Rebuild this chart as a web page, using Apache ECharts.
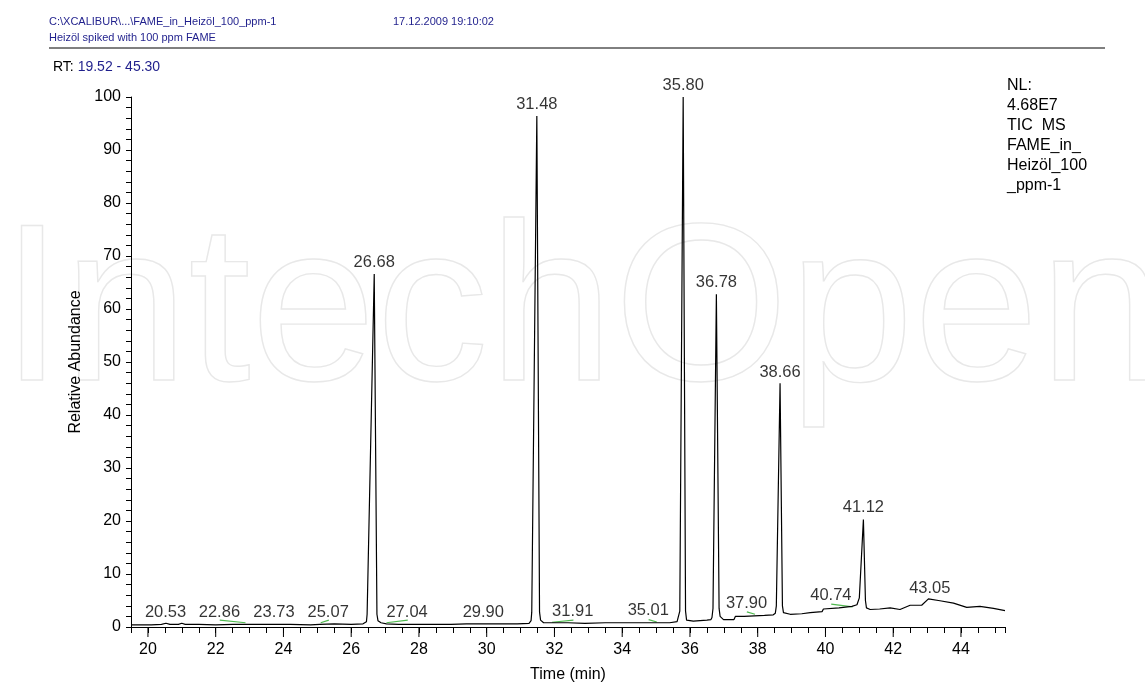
<!DOCTYPE html>
<html>
<head>
<meta charset="utf-8">
<script src="https://cdn.jsdelivr.net/npm/echarts@6/dist/echarts.min.js"></script>
<style>
html,body{margin:0;padding:0;background:#fff;}
#chart{width:1145px;height:688px;}
</style>
</head>
<body>
<div id="chart"></div>
<script>
// ---- data ----
const xMajorTicks = [20,22,24,26,28,30,32,34,36,38,40,42,44];

// TIC trace: [retention time (min), relative abundance (%)]
const trace = [
[19.52,0.4],[19.8,0.4],[20.1,0.4],[20.4,0.5],[20.53,0.7],[20.65,0.5],[20.9,0.5],[21.0,0.7],[21.1,0.5],
[21.5,0.5],[22.0,0.4],[22.5,0.5],[22.86,0.5],[23.3,0.5],[23.73,0.5],[24.2,0.5],[24.8,0.4],[25.07,0.5],
[25.5,0.6],[26.0,0.5],[26.35,0.6],
[26.45,1.0],[26.47,2.4],[26.68,66.6],[26.76,2.4],[26.79,1.2],[26.88,0.8],
[27.04,0.6],[27.4,0.5],[27.9,0.5],[28.5,0.5],[28.85,0.5],[28.9,0.8],[28.95,0.5],[29.4,0.6],[29.9,0.6],
[30.4,0.6],[30.9,0.6],[31.25,0.7],
[31.31,1.2],[31.33,2.8],[31.48,96.4],[31.56,2.8],[31.59,1.3],[31.68,0.8],
[31.91,0.8],[32.4,0.8],[32.9,0.7],[33.5,0.8],[34.0,0.8],[34.2,0.8],[34.25,1.1],[34.3,0.8],[35.01,0.8],
[35.4,0.8],[35.62,1.0],
[35.67,1.3],[35.70,3.0],[35.80,100],[35.87,3.0],[35.90,1.3],
[36.0,1.2],[36.1,1.1],[36.3,1.2],[36.5,1.3],[36.62,1.4],
[36.65,1.8],[36.68,3.5],[36.78,62.8],[36.86,3.5],[36.89,2.0],
[36.99,1.4],[37.2,1.4],[37.3,1.4],[37.34,2.0],[37.6,2.0],[37.9,2.1],[38.2,2.2],[38.46,2.3],
[38.52,2.6],[38.55,4.0],[38.66,46],[38.73,4.0],[38.76,2.7],
[38.96,2.4],[39.3,2.5],[39.55,2.7],[39.9,2.9],[39.94,3.4],[40.4,3.6],[40.78,3.9],[40.93,4.2],
[40.97,4.3],[41.0,5.5],[41.12,20.3],[41.18,5.0],[41.21,3.6],
[41.32,3.3],[41.6,3.4],[41.91,3.6],[42.2,3.3],[42.5,4.1],[42.84,4.1],[43.04,5.3],[43.38,4.95],
[43.78,4.5],[44.17,3.7],[44.56,3.9],[44.96,3.5],[45.3,3.1]
];

// peak annotations: text, anchor time and anchor abundance
const peakRT     = ['20.53','22.86','23.73','25.07','26.68','27.04','29.90','31.48','31.91','35.01','35.80','36.78','37.90','38.66','40.74','41.12','43.05'];
const peakLabelX = [20.52, 22.11, 23.72, 25.32, 26.68, 27.65, 29.90, 31.48, 32.54, 34.77, 35.80, 36.78, 37.67, 38.66, 40.16, 41.12, 43.08];
const peakLabelY = [0.46, 0.46, 0.46, 0.46, 66.6, 0.46, 0.46, 96.4, 0.6, 0.8, 100, 62.8, 2.1, 45.8, 3.6, 20.3, 5.1];

// integration baselines (green): [t1, y1, t2, y2]
const baselineSegs = [
[22.12,1.3,22.88,0.8],
[25.10,0.8,25.34,1.3],
[27.04,0.8,27.67,1.3],
[31.93,0.9,32.56,1.3],
[34.78,1.4,35.02,0.95],
[37.68,2.85,37.92,2.4],
[40.17,4.3,40.80,3.8]
];

const nlLines = ['NL:','4.68E7','TIC  MS','FAME_in_','Heizöl_100','_ppm-1'];

// ---- chart ----
const FONT = '"Liberation Sans", Arial, sans-serif';
const BLUE = '#1f1f8c';
const chart = echarts.init(document.getElementById('chart'), null, {renderer:'canvas'});

const series = [
  {
    type:'line', data: trace, showSymbol:false, symbol:'none', z:3,
    lineStyle:{color:'#000', width:1.2}, silent:true, sampling:null
  },
  {
    type:'scatter', z:4, silent:true,
    data: peakLabelX.map((x,i)=>[x, peakLabelY[i], peakRT[i]]),
    symbolSize:1, itemStyle:{color:'rgba(0,0,0,0)'},
    label:{show:true, position:'top', distance:3, color:'#000', fontSize:16.5, fontFamily:FONT,
      formatter:p=>p.value[2]}
  },
  {
    type:'custom', silent:true, clip:false, z:5,
    data: xMajorTicks.map(v=>[v]),
    encode:{x:0},
    renderItem:(params, api)=>{
      const p = api.coord([api.value(0), 0]);
      return {type:'line', shape:{x1:p[0], y1:p[1], x2:p[0], y2:p[1]+10}, style:{stroke:'#000', lineWidth:1}};
    }
  }
];
baselineSegs.forEach(s=>{
  series.push({type:'line', silent:true, z:2, showSymbol:false, symbol:'none',
    data:[[s[0],s[1]],[s[2],s[3]]], lineStyle:{color:'#4fb84f', width:1.2}});
});

const graphics = [
  {type:'text', silent:true, z:-10, left:0, top:205,
   style:{text:'IntechOpen', font:'225px '+FONT, fill:'rgba(0,0,0,0)', stroke:'#e8e8e8', lineWidth:1.4}},
  {type:'text', left:49, top:16, style:{text:'C:\\XCALIBUR\\...\\FAME_in_Heizöl_100_ppm-1', font:'11px '+FONT, fill:BLUE}},
  {type:'text', left:49, top:32, style:{text:'Heizöl spiked with 100 ppm FAME', font:'11px '+FONT, fill:BLUE}},
  {type:'text', left:393, top:16, style:{text:'17.12.2009 19:10:02', font:'11px '+FONT, fill:BLUE}},
  {type:'line', shape:{x1:49, y1:48, x2:1105, y2:48}, style:{stroke:'#000', lineWidth:1}},
  {type:'text', left:53, top:60, style:{text:'{k|RT:} {b|19.52 - 45.30}', font:'14px '+FONT,
    rich:{k:{fill:'#000', font:'14px '+FONT}, b:{fill:BLUE, font:'14px '+FONT}}}}
];
nlLines.forEach((t,i)=>{
  graphics.push({type:'text', left:1007, top:78+i*20, style:{text:t, font:'16px '+FONT, fill:'#000'}});
});

chart.setOption({
  animation:false,
  backgroundColor:'#fff',
  grid:{left:131, right:140, top:97, bottom:52, containLabel:false},
  xAxis:{
    type:'value', min:19.5, max:45.3, interval:0.5,
    name:'Time (min)', nameLocation:'middle', nameGap:40,
    nameTextStyle:{color:'#000', fontSize:16, fontFamily:FONT},
    axisLine:{show:true, onZero:false, lineStyle:{color:'#000', width:1}},
    axisTick:{show:true, length:6, lineStyle:{color:'#000', width:1}},
    axisLabel:{color:'#000', fontSize:16, fontFamily:FONT, margin:15,
      formatter:v=> (Math.abs(v%2)<1e-9 ? String(v) : '')},
    splitLine:{show:false}
  },
  yAxis:{
    type:'value', min:0, max:100, interval:2,
    name:'Relative Abundance', nameLocation:'middle', nameGap:38,
    nameTextStyle:{color:'#000', fontSize:16, fontFamily:FONT},
    axisLine:{show:true, lineStyle:{color:'#000', width:1}},
    axisTick:{show:true, length:5, lineStyle:{color:'#000', width:1}},
    axisLabel:{color:'#000', fontSize:16, fontFamily:FONT, margin:10,
      formatter:v=> (v%10===0 ? String(v) : '')},
    splitLine:{show:false}
  },
  graphic:graphics,
  series:series
});
</script>
</body>
</html>
